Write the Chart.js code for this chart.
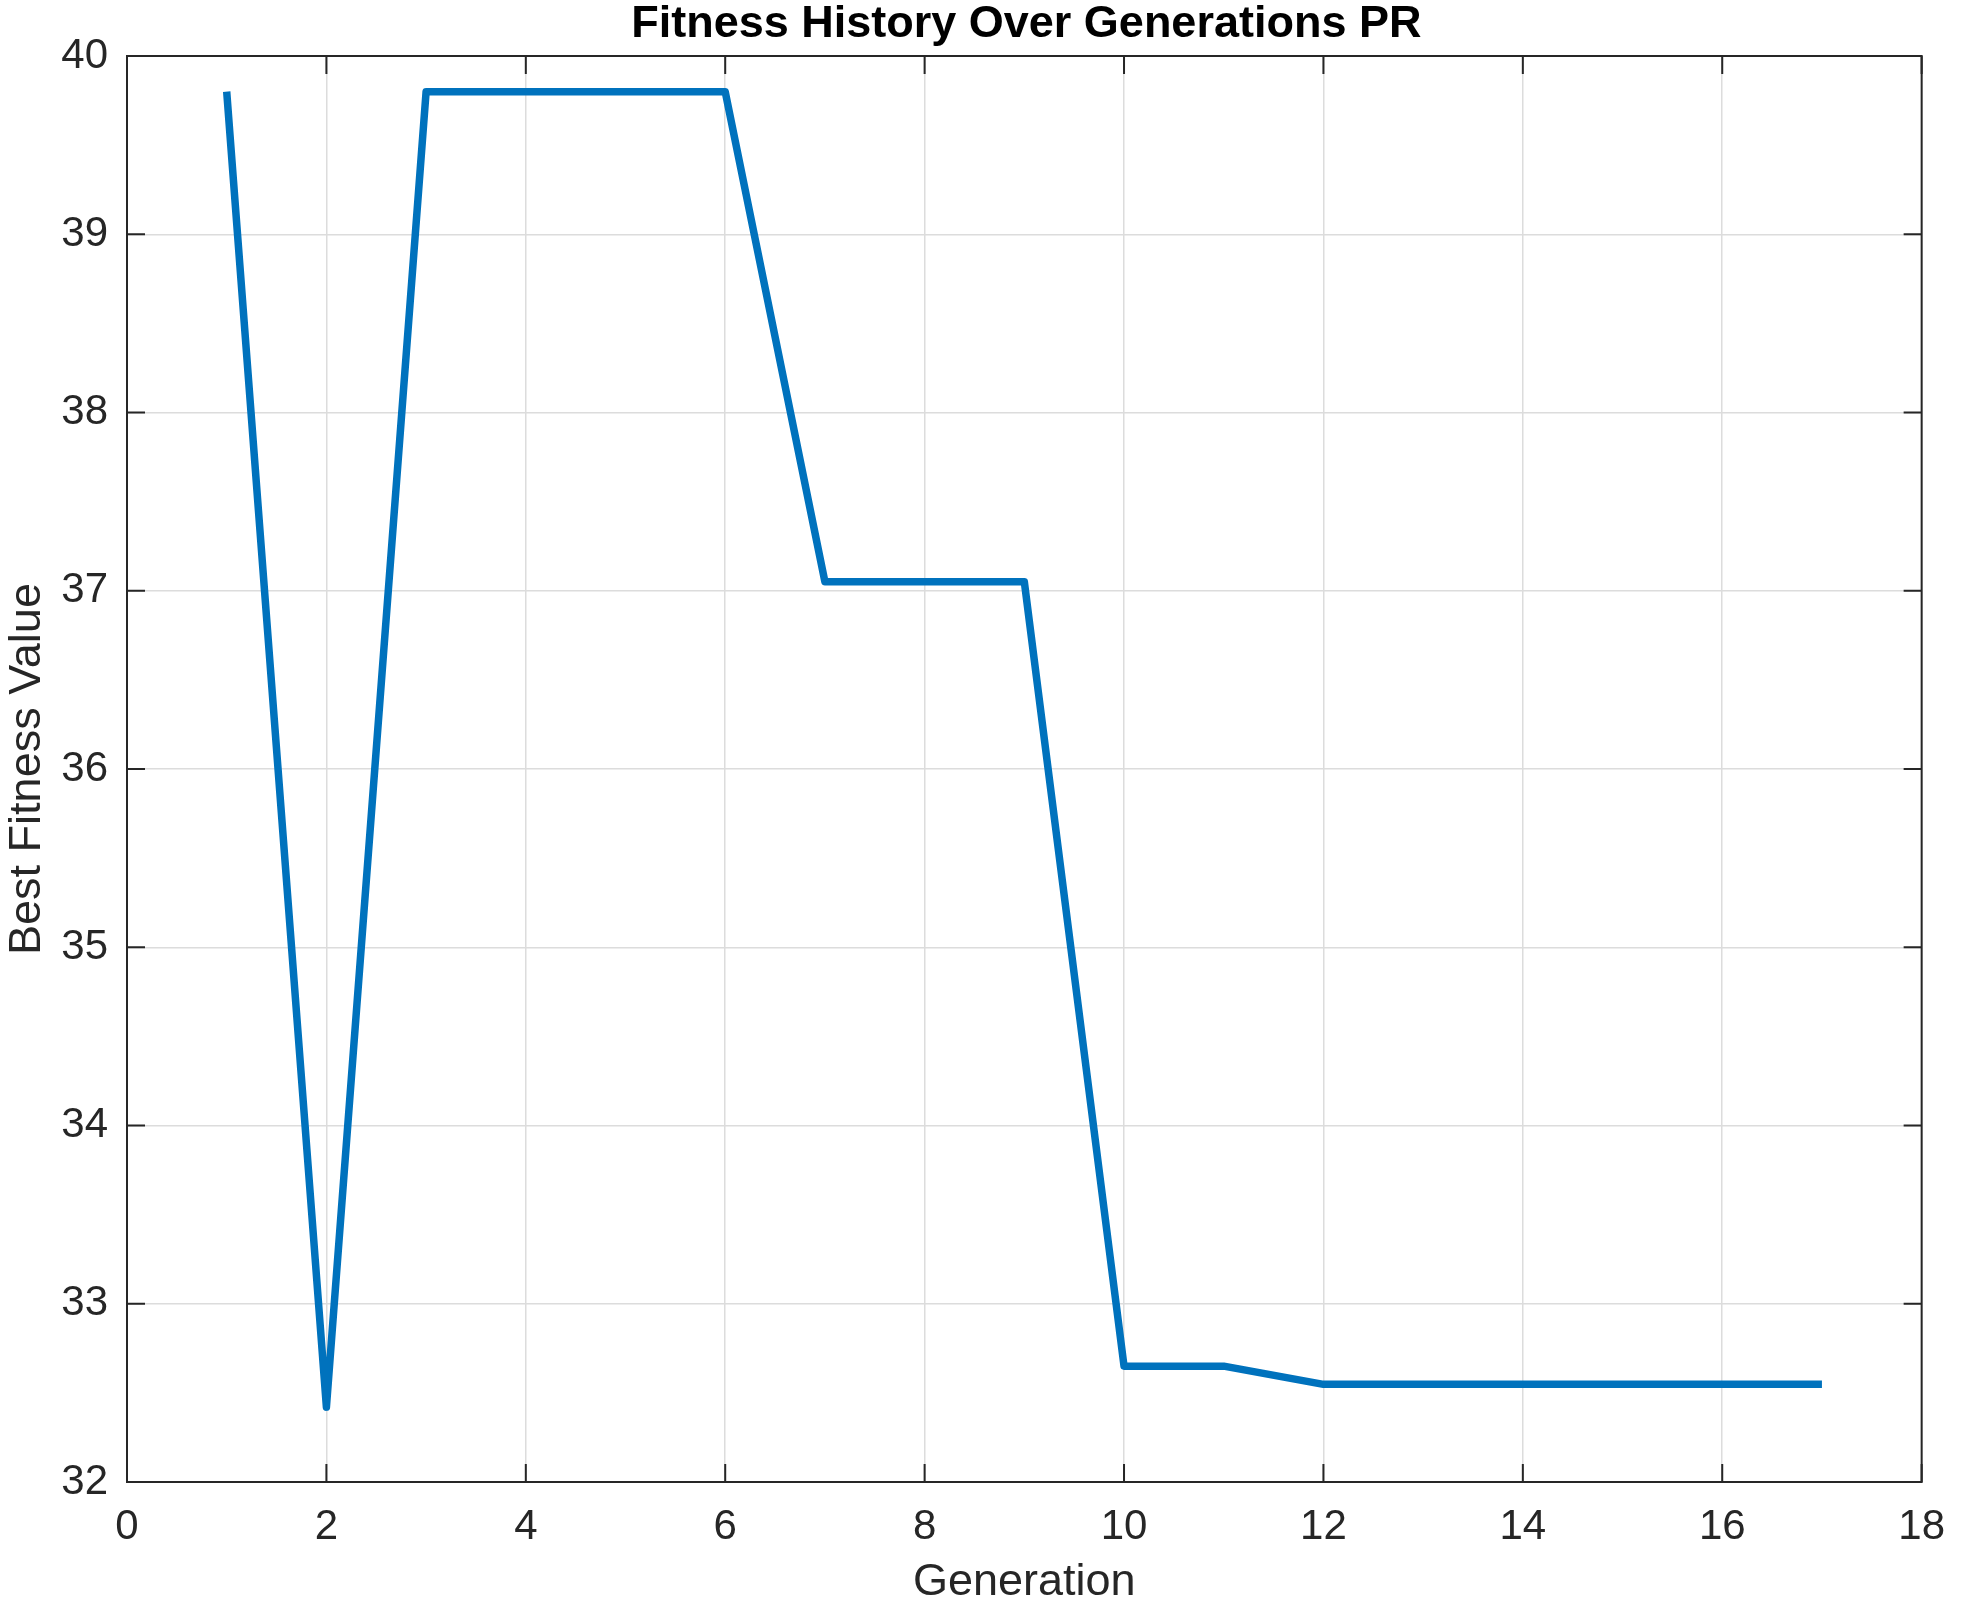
<!DOCTYPE html>
<html>
<head>
<meta charset="utf-8">
<title>Fitness History Over Generations PR</title>
<script src="https://cdn.jsdelivr.net/npm/chart.js@4.4.1/dist/chart.umd.min.js"></script>
<style>
    html, body { margin: 0; padding: 0; background: #ffffff; }
    #wrap { width: 1965px; height: 1605px; }
</style>
</head>
<body>
<div id="wrap">
    <canvas id="fitnessChart" width="1965" height="1605"></canvas>
</div>
<script>
// =========================
// Chart Data
// =========================

const generations = [1, 2, 3, 4, 5, 6, 7, 8, 9, 10, 11, 12, 13, 14, 15, 16, 17];
const bestFitness = [39.80, 32.42, 39.80, 39.80, 39.80, 39.80, 37.05, 37.05, 37.05,
                     32.65, 32.65, 32.548, 32.548, 32.548, 32.548, 32.548, 32.548];

const xTickValues = [0, 2, 4, 6, 8, 10, 12, 14, 16, 18];
const yTickValues = [32, 33, 34, 35, 36, 37, 38, 39, 40];

const chartTitle = "Fitness History Over Generations PR";
const xLabel = "Generation";
const yLabel = "Best Fitness Value";

// =========================
// Styling
// =========================

const axisColor = "#262626";
const gridColor = "#dcdcdc";
const lineColor = "#0072bd";
const fontFamily = "'Liberation Sans', Arial, Helvetica, sans-serif";
const tickLen = 18;

// box round the plot + inward ticks on all sides, title over plot centre
const axesBox = {
    id: "axesBox",
    beforeDatasetsDraw(chart) {
        const { ctx, chartArea: a, scales: { x, y } } = chart;
        ctx.save();
        ctx.strokeStyle = axisColor;
        ctx.lineWidth = 2;
        ctx.beginPath();
        xTickValues.forEach(v => {
            const px = x.getPixelForValue(v);
            ctx.moveTo(px, a.bottom);
            ctx.lineTo(px, a.bottom - tickLen);
            ctx.moveTo(px, a.top);
            ctx.lineTo(px, a.top + tickLen);
        });
        yTickValues.forEach(v => {
            const py = y.getPixelForValue(v);
            ctx.moveTo(a.left, py);
            ctx.lineTo(a.left + tickLen, py);
            ctx.moveTo(a.right, py);
            ctx.lineTo(a.right - tickLen, py);
        });
        ctx.stroke();
        ctx.strokeRect(a.left, a.top, a.right - a.left, a.bottom - a.top);
        ctx.restore();
    },
    afterDraw(chart) {
        const { ctx, chartArea: a } = chart;
        ctx.save();
        ctx.fillStyle = "#000000";
        ctx.font = "bold 45px " + fontFamily;
        ctx.textAlign = "center";
        ctx.textBaseline = "middle";
        ctx.fillText(chartTitle, (a.left + a.right) / 2 + 2, 25);
        ctx.restore();
    }
};

// =========================
// Create Chart
// =========================

const ctx = document.getElementById("fitnessChart");

const chart = new Chart(ctx, {
    type: "line",
    data: {
        datasets: [{
            label: "Best Fitness",
            data: generations.map((g, i) => ({ x: g, y: bestFitness[i] })),
            borderColor: lineColor,
            borderWidth: 7.5,
            borderCapStyle: "butt",
            borderJoinStyle: "round",
            pointRadius: 0,
            tension: 0,
            fill: false
        }]
    },
    options: {
        responsive: false,
        animation: false,
        devicePixelRatio: 1,
        layout: {
            padding: { top: 56, right: 30, bottom: 0, left: 0 }
        },
        plugins: {
            legend: { display: false },
            tooltip: { enabled: false },
            title: { display: false }
        },
        scales: {
            x: {
                type: "linear",
                min: 0,
                max: 18,
                afterBuildTicks: scale => {
                    scale.ticks = xTickValues.map(v => ({ value: v }));
                },
                afterFit: scale => { scale.height = 123; },
                ticks: {
                    color: axisColor,
                    font: { family: fontFamily, size: 42 },
                    padding: 20,
                    maxRotation: 0
                },
                grid: {
                    color: gridColor,
                    lineWidth: 1.5,
                    drawTicks: false
                },
                border: { display: false },
                title: {
                    display: true,
                    text: xLabel,
                    color: axisColor,
                    font: { family: fontFamily, size: 45, lineHeight: 1 },
                    padding: { top: 0, bottom: 0 }
                }
            },
            y: {
                type: "linear",
                min: 32,
                max: 40,
                afterBuildTicks: scale => {
                    scale.ticks = yTickValues.map(v => ({ value: v }));
                },
                afterFit: scale => { scale.width = 127; },
                ticks: {
                    color: axisColor,
                    font: { family: fontFamily, size: 42 },
                    padding: 19
                },
                grid: {
                    color: gridColor,
                    lineWidth: 1.5,
                    drawTicks: false
                },
                border: { display: false },
                title: {
                    display: true,
                    text: yLabel,
                    color: axisColor,
                    font: { family: fontFamily, size: 45, lineHeight: 1.2 },
                    padding: { top: 1, bottom: 0 }
                }
            }
        }
    },
    plugins: [axesBox]
});
</script>
</body>
</html>
